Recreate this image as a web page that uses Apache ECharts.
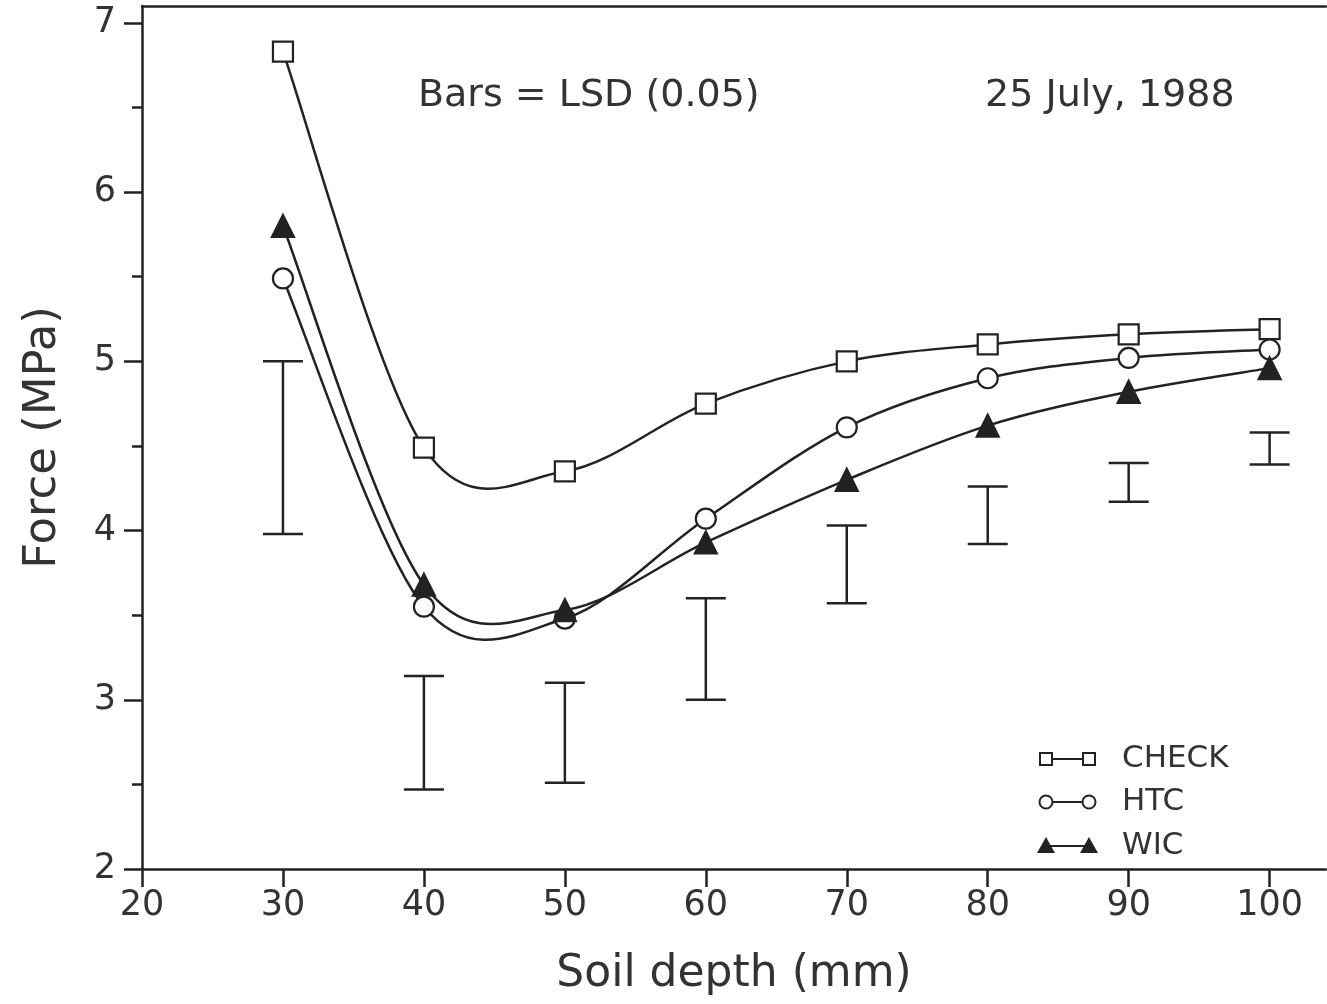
<!DOCTYPE html>
<html>
<head>
<meta charset="utf-8">
<script src="https://cdn.jsdelivr.net/npm/echarts@6/dist/echarts.min.js"></script>
<style>
  html, body { margin: 0; padding: 0; background: #fff; }
  #chart { width: 1327px; height: 1004px; }
</style>
</head>
<body>
<div id="chart"></div>
<script>
// soil depth (mm)
const depth = [30, 40, 50, 60, 70, 80, 90, 100];
// force (MPa)
const checkForce = [6.83, 4.49, 4.35, 4.75, 5.00, 5.10, 5.16, 5.19];
const htcForce = [5.49, 3.55, 3.48, 4.07, 4.61, 4.90, 5.02, 5.07];
const wicForce = [5.80, 3.68, 3.53, 3.93, 4.30, 4.62, 4.82, 4.96];
// LSD (0.05) bars
const lsdLow = [3.98, 2.47, 2.51, 3.00, 3.57, 3.92, 4.17, 4.39];
const lsdHigh = [5.00, 3.14, 3.10, 3.60, 4.03, 4.26, 4.40, 4.58];
// ticks
const xTicks = [20, 30, 40, 50, 60, 70, 80, 90, 100];
const yTicks = [2, 3, 4, 5, 6, 7];
const yMinorTicks = [2.5, 3.5, 4.5, 5.5, 6.5];

const ink = '#222';
const font = 'DejaVu Sans';

const chart = echarts.init(document.getElementById('chart'));

function pairs(ys) {
  return depth.map((x, i) => [x, ys[i]]);
}

// ECharts' own smoothing clamps control points (no overshoot), the original
// plot used a free spline, so draw a Catmull-Rom segment per data item
function curveSeries(ys) {
  return {
    type: 'custom',
    data: pairs(ys),
    clip: false,
    z: 3,
    renderItem: function (params, api) {
      const i = params.dataIndex;
      const n = depth.length;
      if (i >= n - 1) return null;
      const p = k => api.coord([depth[Math.max(0, Math.min(n - 1, k))], ys[Math.max(0, Math.min(n - 1, k))]]);
      const p0 = p(i - 1), p1 = p(i), p2 = p(i + 1), p3 = p(i + 2);
      const c1 = [p1[0] + (p2[0] - p0[0]) / 6, p1[1] + (p2[1] - p0[1]) / 6];
      const c2 = [p2[0] - (p3[0] - p1[0]) / 6, p2[1] - (p3[1] - p1[1]) / 6];
      return {
        type: 'bezierCurve',
        shape: { x1: p1[0], y1: p1[1], cpx1: c1[0], cpy1: c1[1], cpx2: c2[0], cpy2: c2[1], x2: p2[0], y2: p2[1] },
        style: { fill: null, stroke: ink, lineWidth: 2.5 }
      };
    }
  };
}

function markerSeries(name, ys, symbol, size, filled) {
  return {
    name: name,
    type: 'scatter',
    data: pairs(ys),
    symbol: symbol,
    symbolSize: size,
    itemStyle: { color: filled ? ink : '#fff', borderColor: ink, borderWidth: 2.2, opacity: 1 },
    z: 4
  };
}

// legend drawn by hand: marker - line - marker, then the name
function legendRow(y, symbol, name) {
  const x1 = 1046, x2 = 1089;
  const kids = [{
    type: 'line',
    shape: { x1: x1, y1: y, x2: x2, y2: y },
    style: { stroke: ink, lineWidth: 2 }
  }];
  [x1, x2].forEach(cx => {
    if (symbol === 'rect') {
      kids.push({ type: 'rect', shape: { x: cx - 6, y: y - 6, width: 12, height: 12 },
        style: { fill: '#fff', stroke: ink, lineWidth: 2 } });
    } else if (symbol === 'circle') {
      kids.push({ type: 'circle', shape: { cx: cx, cy: y, r: 6.5 },
        style: { fill: '#fff', stroke: ink, lineWidth: 2 } });
    } else {
      kids.push({ type: 'polygon', shape: { points: [[cx, y - 9], [cx - 9, y + 7], [cx + 9, y + 7]] },
        style: { fill: ink } });
    }
  });
  kids.push({
    type: 'text', x: 1122, y: y,
    style: { text: name, font: '31px "' + font + '"', fill: '#333', verticalAlign: 'middle' }
  });
  return { type: 'group', children: kids };
}

const option = {
  backgroundColor: '#fff',
  animation: false,
  grid: {
    left: 142,
    top: 6,
    width: 1184,
    height: 863
  },
  xAxis: [{
    type: 'value',
    min: 20,
    max: 104,
    interval: 10,
    name: 'Soil depth (mm)',
    nameLocation: 'middle',
    nameGap: 84,
    nameTextStyle: { fontFamily: font, fontSize: 44, color: '#333' },
    axisLine: { show: true, lineStyle: { color: ink, width: 2.5 } },
    axisTick: { show: true, length: 18, customValues: xTicks, lineStyle: { color: ink, width: 2.5 } },
    axisLabel: { customValues: xTicks, margin: 19, fontFamily: font, fontSize: 35, color: '#333' },
    splitLine: { show: false }
  }, {
    type: 'value',
    position: 'top',
    min: 20,
    max: 104,
    interval: 10,
    axisLine: { show: true, onZero: false, lineStyle: { color: ink, width: 2.5 } },
    axisTick: { show: false },
    axisLabel: { show: false },
    splitLine: { show: false }
  }],
  yAxis: [{
    type: 'value',
    min: 2,
    max: 7.1,
    interval: 1,
    name: 'Force (MPa)',
    nameLocation: 'middle',
    nameGap: 76,
    nameTextStyle: { fontFamily: font, fontSize: 45, color: '#333' },
    axisLine: { show: true, lineStyle: { color: ink, width: 2.5 } },
    axisTick: { show: true, length: 18, customValues: yTicks, lineStyle: { color: ink, width: 2.5 } },
    axisLabel: { customValues: yTicks, margin: 26, fontFamily: font, fontSize: 35, color: '#333' },
    splitLine: { show: false }
  }, {
    type: 'value',
    position: 'left',
    min: 2,
    max: 7.1,
    interval: 1,
    axisLine: { show: false },
    axisTick: { show: true, length: 10, customValues: yMinorTicks, lineStyle: { color: ink, width: 2.5 } },
    axisLabel: { show: false },
    splitLine: { show: false }
  }],
  series: [
    {
      name: 'LSD',
      type: 'custom',
      data: depth.map((x, i) => [x, lsdLow[i], lsdHigh[i]]),
      renderItem: function (params, api) {
        const lo = api.coord([api.value(0), api.value(1)]);
        const hi = api.coord([api.value(0), api.value(2)]);
        const hw = 20;
        const st = { stroke: ink, lineWidth: 2.5 };
        return {
          type: 'group',
          children: [
            { type: 'line', shape: { x1: lo[0], y1: lo[1], x2: hi[0], y2: hi[1] }, style: st },
            { type: 'line', shape: { x1: hi[0] - hw, y1: hi[1], x2: hi[0] + hw, y2: hi[1] }, style: st },
            { type: 'line', shape: { x1: lo[0] - hw, y1: lo[1], x2: lo[0] + hw, y2: lo[1] }, style: st }
          ]
        };
      },
      z: 2
    },
    curveSeries(checkForce),
    curveSeries(htcForce),
    curveSeries(wicForce),
    markerSeries('CHECK', checkForce, 'rect', 20, false),
    markerSeries('HTC', htcForce, 'circle', 20, false),
    markerSeries('WIC', wicForce, 'triangle', 22, true)
  ],
  graphic: [
    {
      type: 'text', left: 418, top: 77,
      style: { text: 'Bars = LSD (0.05)', font: '38px "' + font + '"', fill: '#333' }
    },
    {
      type: 'text', left: 985, top: 77,
      style: { text: '25 July, 1988', font: '38px "' + font + '"', fill: '#333' }
    },
    legendRow(759, 'rect', 'CHECK'),
    legendRow(802, 'circle', 'HTC'),
    legendRow(846, 'triangle', 'WIC')
  ]
};

chart.setOption(option);
window.addEventListener('resize', () => chart.resize());
</script>
</body>
</html>
